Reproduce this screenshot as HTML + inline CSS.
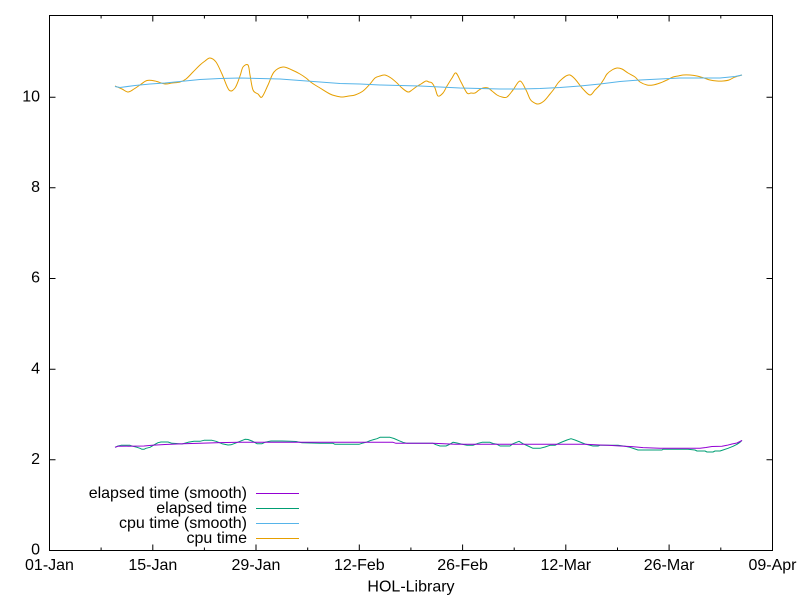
<!DOCTYPE html>
<html>
<head>
<meta charset="utf-8">
<style>
html,body{margin:0;padding:0;background:#fff;}
svg{display:block;}
text{font-family:"Liberation Sans",Arial,sans-serif;font-size:16px;fill:#000;}
</style>
</head>
<body>
<svg id="chart" width="800" height="600" viewBox="0 0 800 600" xmlns="http://www.w3.org/2000/svg">
<rect x="0" y="0" width="800" height="600" fill="#fff"/>

<!-- ticks -->
<g stroke="#000" stroke-width="1" fill="none">
  <path d="M49.5 459.8h6M49.5 369.2h6M49.5 278.5h6M49.5 187.8h6M49.5 97.2h6"/>
  <path d="M772.5 459.8h-6M772.5 369.2h-6M772.5 278.5h-6M772.5 187.8h-6M772.5 97.2h-6"/>
  <path d="M152.8 550.5v-6M256 550.5v-6M359.3 550.5v-6M462.6 550.5v-6M565.8 550.5v-6M669.1 550.5v-6"/>
  <path d="M101.1 550.5v-3M204.4 550.5v-3M307.7 550.5v-3M410.9 550.5v-3M514.2 550.5v-3M617.5 550.5v-3M720.8 550.5v-3"/>
  <path d="M152.8 15.5v6M256 15.5v6M359.3 15.5v6M462.6 15.5v6M565.8 15.5v6M669.1 15.5v6"/>
  <path d="M101.1 15.5v3M204.4 15.5v3M307.7 15.5v3M410.9 15.5v3M514.2 15.5v3M617.5 15.5v3M720.8 15.5v3"/>
</g>

<!-- y labels -->
<g text-anchor="end">
  <text x="40" y="554.5">0</text>
  <text x="40" y="464">2</text>
  <text x="40" y="373.4">4</text>
  <text x="40" y="282.7">6</text>
  <text x="40" y="192">8</text>
  <text x="40" y="101.4">10</text>
</g>

<!-- x labels -->
<g text-anchor="middle">
  <text x="49.5" y="570">01-Jan</text>
  <text x="152.8" y="570">15-Jan</text>
  <text x="256" y="570">29-Jan</text>
  <text x="359.3" y="570">12-Feb</text>
  <text x="462.6" y="570">26-Feb</text>
  <text x="565.8" y="570">12-Mar</text>
  <text x="669.1" y="570">26-Mar</text>
  <text x="772.5" y="570">09-Apr</text>
  <text x="411" y="591.5">HOL-Library</text>
</g>

<!-- series -->
<g fill="none" stroke-width="1" stroke-linejoin="round">
  <polyline class="smooth" stroke="#e69f00" points="115,86 122,89 128,92 134,89 140,85 147,80.5 155,81 165,84 172,83 180,82 186,79 193,72 200,65 205,61 210,58 216,62 222,74 229,90 235,88 240,76 243,67 248,65 250,75 253,90 258,94 262,97 268,85 274,72 283,67 292,70 300,74 306,78 312,83 320,88 330,94 336,96 342,97 349,96 355,95 363,91 370,84 375,78 380,76 385,75 391,78 397,83 402,88 408,92 412,90 416,87 421,84 426,81 429,82 432,83 435,88 438,96 443,93 447,86 452,78 456,73 461,82 467,93 471,93 475,93 479,90 483,88 488,88 492,91 497,95 502,97 507,97 513,90 520,81 526,90 530,99 533,102 538,104 544,101 550,94 554,89 558,83 562,79 566,76 570,75 575,79 583,89 590,95 595,90 600,85 604,79 607,74 612,70 617,68 622,69 628,73 635,77 640,82 647,85 653,85 660,83 667,80 673,77 678,76 683,75 690,75 697,76 704,78 710,80 717,81 723,81 729,80 735,77 742,75"/>
  <polyline stroke="#56b4e9" points="115,86.5 120,87.5 135,85.5 150,84 165,83 180,81.5 200,79.5 220,78.5 240,78 260,78.5 280,79 300,80.5 320,82 340,83.5 360,84 380,85 400,85.5 420,86 440,87 460,88 480,88.5 500,89 520,89 540,88.5 560,87.5 580,86 600,84 620,81.5 640,80 660,79 680,78 700,78 720,78 735,76.5 742,75"/>
  <polyline stroke="#009e73" points="115,447.3 118,446 121,445.3 130,445.3 133,446.3 137,447.3 140,448.3 142,449.3 144,449.3 146,448.3 150,447.3 155,444.3 158,442.7 161,442 168,442 172,443.3 176,443.5 182,444 188,442.3 194,441.3 200,441.3 204,440.3 212,440.3 216,441.3 222,443.7 228,445 231,444.8 235,443.3 240,441.3 245,439.3 248,439.5 252,441 257,443.7 262,443.7 265,442.3 271,441 282,441 290,441.3 296,441.5 302,442.7 320,443.3 333,443.3 335,444.3 359,444.3 362,443.3 367,442 370,440.7 374,439.5 377,438.7 380,437.3 390,437.3 394,438.5 399,440.7 403,442.3 407,443.3 433,443.3 436,444.7 440,446 446,446 449,444.7 453,442.3 457,443 461,444 467,445.3 473,445.3 478,443.3 482,442.3 490,442.3 493,443.5 497,444.3 500,446 510,446 513,443.7 519,441.3 523,443.7 528,446 533,448.3 540,448.3 545,447 550,445.3 555,445.3 558,443.7 562,442 567,440 571,438.7 575,440 580,442 585,444 593,446 598,446 600,445.3 618,445.3 625,446.3 630,447.3 635,449 638,450 662,450 663,449.3 688,449.3 695,450 697,451 705,451 707,452 713,452 715,451 720,451 723,450 728,448.3 733,446.3 737,444.3 740,442.3 742,440.3"/>
  <polyline stroke="#9400d3" points="115,447.3 118,446.3 144,446 152,445.3 165,444.5 183,443.8 200,443.3 220,442.6 240,442.3 393,442.3 396,443.3 433,443.3 455,444.3 585,444.3 600,445 608,445.3 620,446 632,446.6 643,447.6 660,448.2 700,448.3 706,447.5 712,446.5 722,446.2 727,445.3 732,444 737,443 742,440.5"/>
</g>

<!-- legend -->
<g text-anchor="end">
  <text x="247" y="498">elapsed time (smooth)</text>
  <text x="247" y="513">elapsed time</text>
  <text x="247" y="528">cpu time (smooth)</text>
  <text x="247" y="543">cpu time</text>
</g>
<g stroke-width="1">
  <line x1="256" y1="493.5" x2="299" y2="493.5" stroke="#9400d3"/>
  <line x1="256" y1="508.5" x2="299" y2="508.5" stroke="#009e73"/>
  <line x1="256" y1="523.5" x2="299" y2="523.5" stroke="#56b4e9"/>
  <line x1="256" y1="538.5" x2="299" y2="538.5" stroke="#e69f00"/>
</g>

<rect x="49.5" y="15.5" width="723" height="535" fill="none" stroke="#000" stroke-width="1"/>
</svg>
<script>
(function(){
  var ns="http://www.w3.org/2000/svg";
  var pls=document.querySelectorAll("polyline.smooth");
  for(var k=0;k<pls.length;k++){
    var pl=pls[k];
    var pts=pl.getAttribute("points").trim().split(/\s+/).map(function(s){var a=s.split(",");return [parseFloat(a[0]),parseFloat(a[1])];});
    var d="M"+pts[0][0]+" "+pts[0][1];
    for(var i=0;i<pts.length-1;i++){
      var p0=pts[i>0?i-1:0],p1=pts[i],p2=pts[i+1],p3=pts[i+2<pts.length?i+2:i+1];
      var c1x=p1[0]+(p2[0]-p0[0])/6,c1y=p1[1]+(p2[1]-p0[1])/6;
      var c2x=p2[0]-(p3[0]-p1[0])/6,c2y=p2[1]-(p3[1]-p1[1])/6;
      d+="C"+c1x.toFixed(2)+" "+c1y.toFixed(2)+" "+c2x.toFixed(2)+" "+c2y.toFixed(2)+" "+p2[0]+" "+p2[1];
    }
    var path=document.createElementNS(ns,"path");
    path.setAttribute("d",d);
    path.setAttribute("stroke",pl.getAttribute("stroke"));
    path.setAttribute("fill","none");
    path.setAttribute("stroke-width","1");
    pl.parentNode.replaceChild(path,pl);
  }
})();
</script>
</body>
</html>
